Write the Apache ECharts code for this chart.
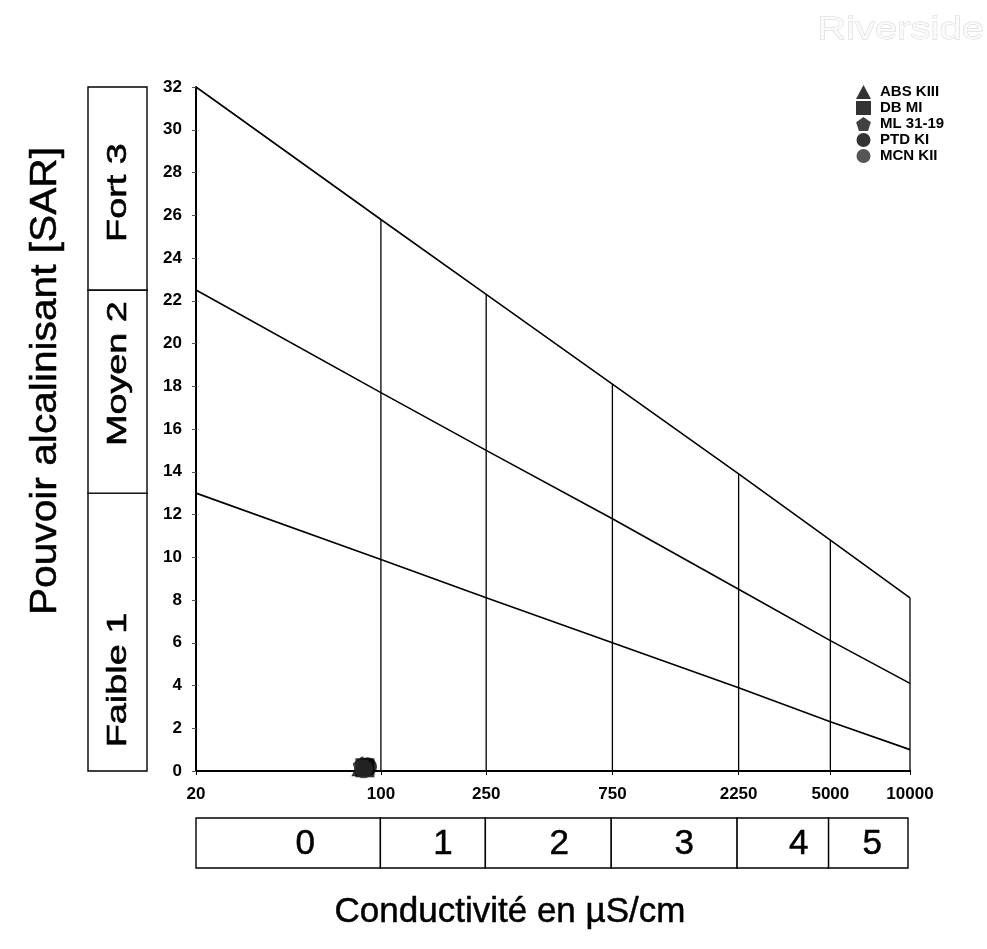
<!DOCTYPE html>
<html>
<head>
<meta charset="utf-8">
<script src="https://cdn.jsdelivr.net/npm/echarts@6/dist/echarts.min.js"></script>
<style>
  html, body { margin: 0; padding: 0; background: #fff; }
  #chart { width: 987px; height: 949px; }
</style>
</head>
<body>
<div id="chart"></div>
<script>
// Conductivity class boundaries (µS/cm) used for tick labels, verticals and classes
const conductivityTicks = [20, 100, 250, 750, 2250, 5000, 10000];
const conductivityClasses = ['0', '1', '2', '3', '4', '5'];

// SAR ticks
const sarMin = 0, sarMax = 32, sarStep = 2;

// The three sloping class limits, SAR value at each conductivity boundary
const limitUpper  = [32.0, 25.8, 22.3, 18.1, 13.9, 10.8, 8.1];
const limitMiddle = [22.5, 17.7, 15.0, 11.8, 8.5, 6.1, 4.1];
const limitLower  = [13.0, 9.9, 8.1, 6.0, 3.9, 2.3, 1.0];

// Alkalisation classes (SAR ranges)
const sarClassFrom   = [0, 13, 22.5];
const sarClassTo     = [13, 22.5, 32];
const sarClassLabels = ['Faible 1', 'Moyen 2', 'Fort 3'];

// Water samples: [conductivity, SAR]
const sampleNames = ['ABS KIII', 'DB MI', 'ML 31-19', 'PTD KI', 'MCN KII'];
const sampleCond  = [84, 87, 85, 89, 86];
const sampleSar   = [0.2, 0.15, 0.25, 0.2, 0.1];

const FONT = 'Liberation Sans, Arial, Helvetica, sans-serif';
const pentagon = 'path://M0,-10 L9.51,-3.09 L5.88,8.09 L-5.88,8.09 L-9.51,-3.09 Z';
const sampleSymbols = ['triangle', 'rect', pentagon, 'circle', 'circle'];
const sampleColors = ['#000', '#000', '#111', '#000', '#2a2a2a'];

// Label placement tweaks inside the class boxes (pixels)
const sarLabelShift = [48, -18, 4];
const condLabelShift = [17, 10, 11, 10, 16, 4];

const chart = echarts.init(document.getElementById('chart'), null, { renderer: 'canvas' });

const series = [];

// Sloping limits
[limitUpper, limitMiddle, limitLower].forEach(function (vals) {
  series.push({
    type: 'line', xAxisIndex: 0, yAxisIndex: 0,
    data: conductivityTicks.map(function (c, i) { return [c, vals[i]]; }),
    symbol: 'none', lineStyle: { color: '#000', width: 1.6 }, silent: true, z: 3
  });
});

// Vertical class boundaries, from 0 up to the upper limit
conductivityTicks.forEach(function (c, i) {
  if (i === 0) return;
  series.push({
    type: 'line', xAxisIndex: 0, yAxisIndex: 0,
    data: [[c, 0], [c, limitUpper[i]]],
    symbol: 'none', lineStyle: { color: '#000', width: 1.3 }, silent: true, z: 3
  });
});

// Samples
sampleNames.forEach(function (name, i) {
  series.push({
    name: name, type: 'scatter', xAxisIndex: 0, yAxisIndex: 0,
    data: [[sampleCond[i], sampleSar[i]]],
    symbol: sampleSymbols[i], symbolSize: 19,
    itemStyle: { color: sampleColors[i] }, z: 5
  });
});

// SAR class boxes on the left
series.push({
  type: 'custom', xAxisIndex: 1, yAxisIndex: 1, silent: true,
  data: sarClassFrom.map(function (f, i) { return [f, sarClassTo[i]]; }),
  renderItem: function (params, api) {
    const p0 = api.coord([0, api.value(0)]);
    const p1 = api.coord([1, api.value(1)]);
    const i = params.dataIndex;
    return {
      type: 'group',
      children: [
        { type: 'rect', shape: { x: p0[0], y: p1[1], width: p1[0] - p0[0], height: p0[1] - p1[1] },
          style: { fill: '#fff', stroke: '#000', lineWidth: 1.4 } },
        { type: 'text', x: (p0[0] + p1[0]) / 2 + 1, y: (p0[1] + p1[1]) / 2 + sarLabelShift[i],
          rotation: Math.PI / 2, scaleX: 1.35,
          style: { text: sarClassLabels[i], font: '28px ' + FONT, fill: '#000', stroke: '#000', lineWidth: 0.6,
                   align: 'center', verticalAlign: 'middle' } }
      ]
    };
  }
});

// Conductivity class boxes at the bottom
series.push({
  type: 'custom', xAxisIndex: 2, yAxisIndex: 2, silent: true,
  data: conductivityClasses.map(function (c, i) { return [conductivityTicks[i], conductivityTicks[i + 1]]; }),
  renderItem: function (params, api) {
    const p0 = api.coord([api.value(0), 0]);
    const p1 = api.coord([api.value(1), 1]);
    const i = params.dataIndex;
    return {
      type: 'group',
      children: [
        { type: 'rect', shape: { x: p0[0], y: p1[1], width: p1[0] - p0[0], height: p0[1] - p1[1] },
          style: { fill: '#fff', stroke: '#000', lineWidth: 1.4 } },
        { type: 'text', x: (p0[0] + p1[0]) / 2 + condLabelShift[i], y: (p0[1] + p1[1]) / 2 + 1,
          style: { text: conductivityClasses[i], font: '35px ' + FONT, fill: '#000', stroke: '#000', lineWidth: 0.5,
                   align: 'center', verticalAlign: 'middle' } }
      ]
    };
  }
});

const option = {
  backgroundColor: '#fff',
  animation: false,
  grid: [
    { left: 196, right: 77, top: 87, bottom: 178 },
    { left: 88, width: 59, top: 87, bottom: 178 },
    { left: 196, right: 79, top: 818, height: 50 }
  ],
  xAxis: [
    {
      type: 'log', logBase: 10, min: 20, max: 10000, gridIndex: 0,
      axisLine: { lineStyle: { color: '#000', width: 2 } },
      axisTick: { show: true, customValues: conductivityTicks, length: 4, lineStyle: { color: '#000' } },
      axisLabel: { customValues: conductivityTicks, color: '#000', fontWeight: 'bold', fontSize: 17,
                   fontFamily: FONT, margin: 15, formatter: function (v) { return String(Math.round(v)); } },
      splitLine: { show: false }, minorTick: { show: false }
    },
    { type: 'value', min: 0, max: 1, gridIndex: 1, show: false },
    { type: 'log', logBase: 10, min: 20, max: 10000, gridIndex: 2, show: false }
  ],
  yAxis: [
    {
      type: 'value', min: sarMin, max: sarMax, interval: sarStep, gridIndex: 0,
      axisLine: { show: true, lineStyle: { color: '#000', width: 2 } },
      axisTick: { show: true, length: 4, lineStyle: { color: '#555' } },
      axisLabel: { color: '#000', fontWeight: 'bold', fontSize: 17, fontFamily: FONT, margin: 14 },
      splitLine: { show: false }
    },
    { type: 'value', min: sarMin, max: sarMax, gridIndex: 1, show: false },
    { type: 'value', min: 0, max: 1, gridIndex: 2, show: false }
  ],
  legend: {
    data: sampleNames.map(function (n, i) { return { name: n, icon: sampleSymbols[i] }; }),
    orient: 'vertical', left: 851, top: 79, itemWidth: 15, itemHeight: 14, itemGap: 0,
    textStyle: { color: '#000', fontSize: 15, fontWeight: 'bold', lineHeight: 16, fontFamily: FONT,
                 padding: [0, 0, 0, 4] }
  },
  graphic: [
    { type: 'text', x: 984, y: 30, scaleX: 1.25,
      style: { text: 'Riverside', font: '32px ' + FONT, fill: '#fafafa', stroke: '#d2d2d2', lineWidth: 0.8,
               align: 'right', verticalAlign: 'middle' } },
    { type: 'text', x: 46, y: 381, rotation: Math.PI / 2, scaleX: 1.13,
      style: { text: 'Pouvoir alcalinisant [SAR]', font: '36px ' + FONT, fill: '#000', stroke: '#000', lineWidth: 0.5,
               align: 'center', verticalAlign: 'middle' } },
    { type: 'text', x: 510, y: 912,
      style: { text: 'Conductivité en µS/cm', font: '35px ' + FONT, fill: '#000', stroke: '#000', lineWidth: 0.5,
               align: 'center', verticalAlign: 'middle' } }
  ],
  series: series
};

chart.setOption(option);
</script>
</body>
</html>
